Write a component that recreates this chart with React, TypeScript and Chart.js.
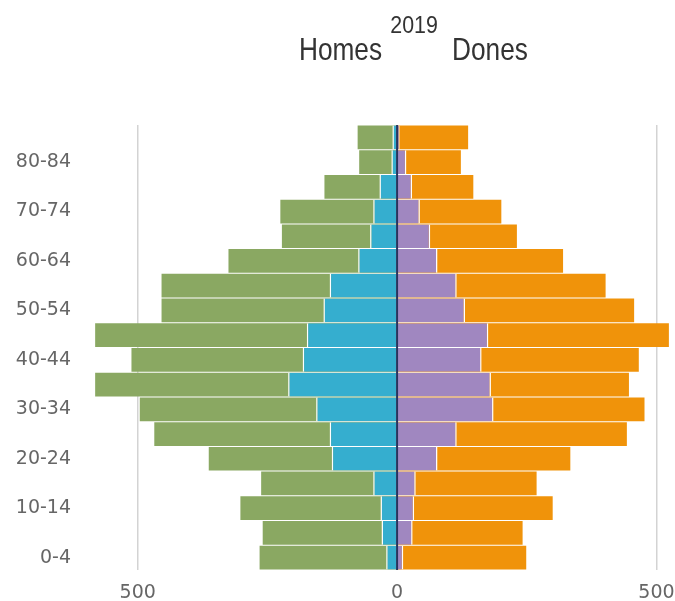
import { useEffect, useRef } from 'react';
import { Chart, registerables } from 'chart.js';

Chart.register(...registerables);

const ageGroups = ['0-4', '5-9', '10-14', '15-19', '20-24', '25-29', '30-34', '35-39', '40-44', '45-49', '50-54', '55-59', '60-64', '65-69', '70-74', '75-79', '80-84', '85+'];
const menTotal = [265, 259, 302, 262, 363, 468, 496, 582, 512, 582, 454, 454, 325, 222, 225, 140, 73, 76];
const menInner = [21, 30, 32, 46, 126, 130, 156, 210, 182, 174, 142, 130, 75, 52, 46, 34, 11, 9];
const womenTotal = [249, 242, 300, 269, 334, 443, 477, 447, 466, 524, 457, 402, 320, 231, 201, 147, 123, 137];
const womenInner = [12, 30, 33, 36, 78, 115, 186, 181, 163, 176, 131, 115, 78, 64, 44, 29, 18, 5];
const xTickValues = [-500, 0, 500];
const yearTitle = '2019';
const menLabel = 'Homes';
const womenLabel = 'Dones';

const SANS = '"Liberation Sans", Arial, sans-serif';

function drawScaledText(ctx: CanvasRenderingContext2D, text: string, x: number, y: number, align: CanvasTextAlign, sx: number) {
  ctx.save();
  ctx.translate(x, y);
  ctx.scale(sx, 1);
  ctx.textAlign = align;
  ctx.fillText(text, 0, 0);
  ctx.restore();
}

const headerPlugin = {
  id: 'header',
  afterDraw(chart: any) {
    const ctx = chart.ctx as CanvasRenderingContext2D;
    const x0 = chart.scales.x.getPixelForValue(0);
    ctx.save();
    ctx.fillStyle = '#333333';
    ctx.textBaseline = 'alphabetic';
    ctx.font = `23px ${SANS}`;
    drawScaledText(ctx, yearTitle, x0 + 17, 33, 'center', 0.93);
    ctx.font = `32px ${SANS}`;
    drawScaledText(ctx, menLabel, x0 - 15, 60, 'right', 0.82);
    drawScaledText(ctx, womenLabel, x0 + 55, 60, 'left', 0.82);
    ctx.restore();
  },
};

const zeroLinePlugin = {
  id: 'zeroLine',
  afterDatasetsDraw(chart: any) {
    const ctx = chart.ctx;
    const x0 = chart.scales.x.getPixelForValue(0);
    const { top, bottom } = chart.chartArea;
    ctx.save();
    ctx.strokeStyle = '#27345e';
    ctx.lineWidth = 2;
    ctx.beginPath();
    ctx.moveTo(x0, top);
    ctx.lineTo(x0, bottom);
    ctx.stroke();
    ctx.restore();
  },
};

export default function App() {
  const ref = useRef<HTMLCanvasElement>(null);

  useEffect(() => {
    if (!ref.current) return;
    const common = {
      grouped: false,
      barPercentage: 0.96,
      categoryPercentage: 1,
      borderSkipped: false as const,
      borderColor: '#ffffff',
    };
    const chart = new Chart(ref.current, {
      type: 'bar',
      data: {
        labels: ageGroups,
        datasets: [
          {
            ...common,
            label: menLabel + ' (a)',
            data: menInner.map((v) => -v),
            backgroundColor: '#35aecf',
            borderWidth: { left: 1.5, right: 0, top: 0, bottom: 0 },
          },
          {
            ...common,
            label: womenLabel + ' (a)',
            data: womenInner,
            backgroundColor: '#a087c0',
            borderWidth: { left: 0, right: 1.5, top: 0, bottom: 0 },
          },
          {
            ...common,
            label: menLabel,
            data: menTotal.map((v) => -v),
            backgroundColor: '#8aa862',
            borderWidth: 0,
          },
          {
            ...common,
            label: womenLabel,
            data: womenTotal,
            backgroundColor: '#f0930a',
            borderWidth: 0,
          },
        ],
      },
      options: {
        indexAxis: 'y',
        animation: false,
        responsive: true,
        maintainAspectRatio: false,
        layout: { padding: { top: 125, right: 3, left: 0, bottom: 0 } },
        plugins: {
          legend: { display: false },
          tooltip: { enabled: false },
          title: { display: false },
        },
        scales: {
          x: {
            type: 'linear',
            min: -590,
            max: 530,
            afterBuildTicks: (scale: any) => {
              scale.ticks = xTickValues.map((v) => ({ value: v }));
            },
            afterFit: (scale: any) => {
              scale.height = 31;
              scale.paddingLeft = 0;
              scale.paddingRight = 0;
            },
            border: { display: false },
            grid: {
              drawTicks: false,
              color: (c: any) => (c.tick && c.tick.value === 0 ? 'rgba(0,0,0,0)' : '#d3d3d3'),
              lineWidth: 1.5,
            },
            ticks: {
              padding: 12,
              color: '#666666',
              font: { family: '"DejaVu Sans", sans-serif', size: 19 },
              callback: (v: any) => String(Math.abs(Number(v))),
            },
          },
          y: {
            type: 'category',
            reverse: true,
            afterFit: (scale: any) => {
              scale.width = 91;
              scale.paddingTop = 0;
              scale.paddingBottom = 0;
            },
            border: { display: false },
            grid: { display: false, drawTicks: false },
            ticks: {
              autoSkip: false,
              padding: 20,
              color: '#666666',
              font: { family: '"DejaVu Sans", sans-serif', size: 19 },
              callback: (_v: any, i: number) => (i % 2 === 0 ? ageGroups[i] : ''),
            },
          },
        },
      } as any,
      plugins: [headerPlugin, zeroLinePlugin],
    });
    return () => chart.destroy();
  }, []);

  return (
    <div style={{ position: 'absolute', left: 0, top: 0, width: 675, height: 601 }}>
      <canvas ref={ref} />
    </div>
  );
}
